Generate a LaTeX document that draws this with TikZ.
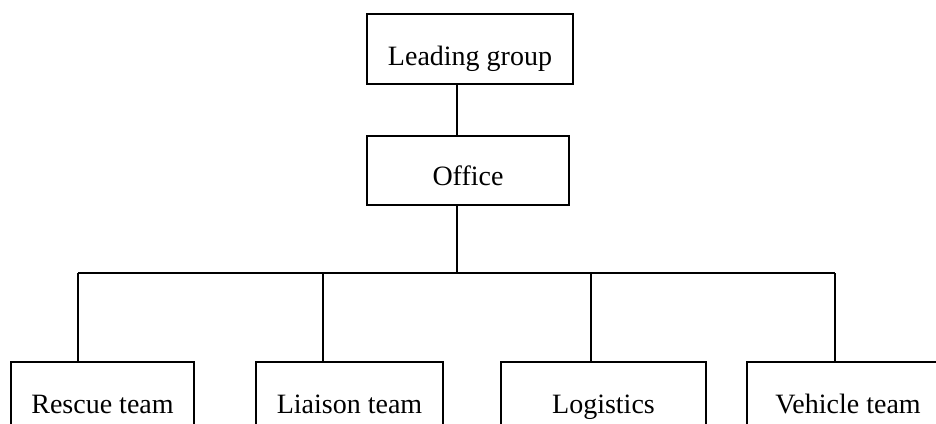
\documentclass[tikz,border=0pt]{standalone}
\usepackage{fontspec}
\setmainfont{Liberation Serif}
\begin{document}
\begin{tikzpicture}[x=1pt,y=-1pt,
  box/.style={draw,line width=1.6pt,inner sep=0pt,anchor=north,
    text height=52pt,text depth=18pt,font=\fontsize{28}{33}\selectfont},
  link/.style={line width=1.6pt}]
\useasboundingbox (0,0) rectangle (936,423);
\node[box,minimum width=206pt] (lead) at (470,13) {Leading group};
\node[box,minimum width=202pt,text height=50pt,text depth=19pt] (office) at (468,135) {Office};
\node[box,minimum width=183pt] (rescue) at (102.5,361) {Rescue team};
\node[box,minimum width=187pt] (liaison) at (349.5,361) {Liaison team};
\node[box,minimum width=205pt] (logistics) at (603.5,361) {Logistics};
\node[box,minimum width=202pt] (vehicle) at (848,361) {Vehicle team};
\coordinate (bus) at (457,273);
\coordinate (c1) at (78,273);
\coordinate (c2) at (323,273);
\coordinate (c3) at (591,273);
\coordinate (c4) at (835,273);
\draw[link] (lead.south -| bus) -- (office.north -| bus);
\draw[link] (office.south -| bus) -- (bus);
\draw[link] (c1) -- (c4);
\draw[link] (c1) -- (c1 |- rescue.north);
\draw[link] (c2) -- (c2 |- liaison.north);
\draw[link] (c3) -- (c3 |- logistics.north);
\draw[link] (c4) -- (c4 |- vehicle.north);
\end{tikzpicture}
\end{document}
